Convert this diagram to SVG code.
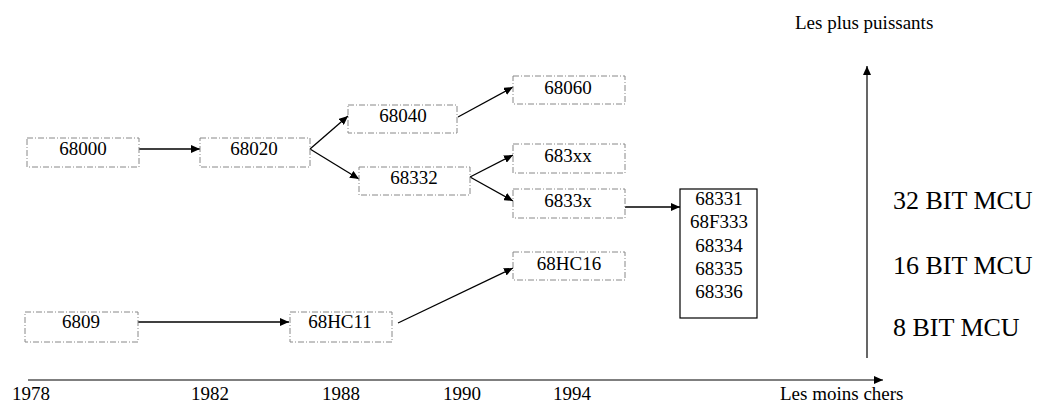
<svg xmlns="http://www.w3.org/2000/svg" width="1039" height="404" viewBox="0 0 1039 404">
<style>
  .box { fill: none; stroke: #888; stroke-width: 1; stroke-dasharray: 6 2 1 2; }
  .solid { fill: #fff; stroke: #000; stroke-width: 1.2; }
  .t { font-family: "Liberation Serif", "Times New Roman", serif; font-size: 19px; fill: #000; text-anchor: middle; }
  .tl { font-family: "Liberation Serif", "Times New Roman", serif; font-size: 19px; fill: #000; }
  .big { font-family: "Liberation Serif", "Times New Roman", serif; font-size: 26px; fill: #000; }
  .c { fill: none; stroke: #000; stroke-width: 1.3; marker-end: url(#ah); }
  .axis { fill: none; stroke: #000; stroke-width: 1.2; marker-end: url(#ah); }
</style>
<defs>
  <marker id="ah" markerUnits="userSpaceOnUse" markerWidth="10" markerHeight="8" refX="9" refY="4" orient="auto">
    <path d="M0,0 L9,4 L0,8 Z" fill="#000"/>
  </marker>
</defs>
<rect width="1039" height="404" fill="#fff"/>

<g id="connectors">
  <line class="c" x1="139" y1="149" x2="200" y2="149"/>
  <polyline class="c" points="310,149 348,116"/>
  <polyline class="c" points="310,149 359,179"/>
  <line class="c" x1="458" y1="117" x2="513" y2="87"/>
  <line class="c" x1="470" y1="177" x2="513" y2="155"/>
  <line class="c" x1="470" y1="177" x2="513" y2="201"/>
  <line class="c" x1="625" y1="207" x2="680" y2="207"/>
  <line class="c" x1="138" y1="322" x2="289" y2="322"/>
  <line class="c" x1="398" y1="323" x2="513" y2="268"/>
  <line class="axis" x1="28" y1="380" x2="883" y2="380"/>
  <line class="axis" x1="867" y1="358" x2="867" y2="66"/>
</g>

<g id="n68000"><rect class="box" x="27" y="138" width="112" height="29"/><text class="t" x="83" y="155">68000</text></g>
<g id="n68020"><rect class="box" x="200" y="138" width="110" height="29"/><text class="t" x="254" y="155">68020</text></g>
<g id="n68040"><rect class="box" x="348" y="105" width="109" height="28"/><text class="t" x="403" y="122">68040</text></g>
<g id="n68060"><rect class="box" x="513" y="76" width="112" height="28"/><text class="t" x="568" y="94">68060</text></g>
<g id="n683xx"><rect class="box" x="513" y="144" width="112" height="29"/><text class="t" x="568" y="162">683xx</text></g>
<g id="n68332"><rect class="box" x="359" y="167" width="111" height="28"/><text class="t" x="414" y="184">68332</text></g>
<g id="n6833x"><rect class="box" x="513" y="189" width="112" height="29"/><text class="t" x="568" y="207">6833x</text></g>
<g id="n68HC16"><rect class="box" x="513" y="252" width="112" height="28"/><text class="t" x="569" y="270">68HC16</text></g>
<g id="n6809"><rect class="box" x="25" y="312" width="113" height="30"/><text class="t" x="81" y="328">6809</text></g>
<g id="n68HC11"><rect class="box" x="290" y="312" width="102" height="30"/><text class="t" x="340" y="328">68HC11</text></g>

<g id="list">
  <rect class="solid" x="680" y="189" width="77" height="129"/>
  <text class="t" x="719" y="205">68331</text>
  <text class="t" x="719" y="228">68F333</text>
  <text class="t" x="719" y="252">68334</text>
  <text class="t" x="719" y="275">68335</text>
  <text class="t" x="719" y="298">68336</text>
</g>

<g id="labels">
  <text class="tl" x="795" y="29">Les plus puissants</text>
  <text class="big" x="893" y="209">32 BIT MCU</text>
  <text class="big" x="893" y="274">16 BIT MCU</text>
  <text class="big" x="893" y="336">8 BIT MCU</text>
  <text class="tl" x="780" y="400">Les moins chers</text>
  <text class="tl" x="12" y="400">1978</text>
  <text class="tl" x="191" y="400">1982</text>
  <text class="tl" x="322" y="400">1988</text>
  <text class="tl" x="443" y="400">1990</text>
  <text class="tl" x="553" y="400">1994</text>
</g>
</svg>
